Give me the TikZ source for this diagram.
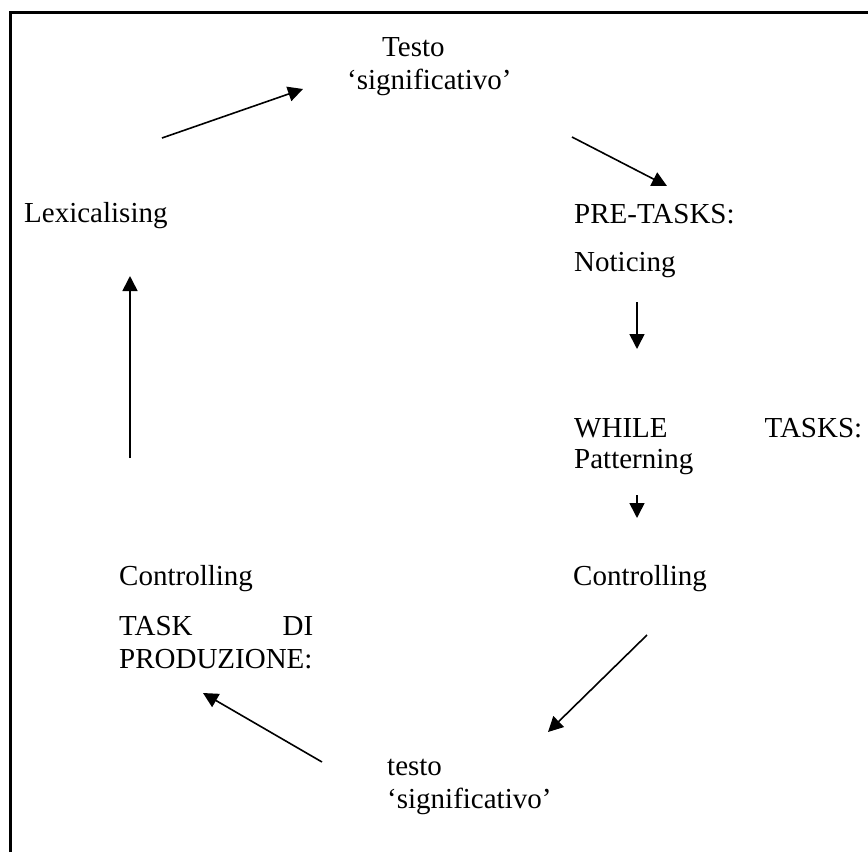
\documentclass[tikz,border=0pt]{standalone}
\usepackage{fontspec}
\setmainfont{Liberation Serif}
\usetikzlibrary{arrows.meta}
\tikzset{
  lbl/.style={anchor=base west, inner sep=0pt, font=\fontsize{29}{33}\selectfont},
  conn/.style={line width=1.6pt, -{Triangle[length=15pt,width=15pt]}},
  frame/.style={line width=3pt}
}
\begin{document}
\begin{tikzpicture}[x=1pt,y=-1pt]
\useasboundingbox (0,0) rectangle (868,852);
\draw[frame] (10.5,852) -- (10.5,12.5) -- (868,12.5);

\node[lbl] (testoA) at (382,56) {Testo};
\node[lbl] (signA) at (347,89) {‘significativo’};
\node[lbl] (lex) at (24,222) {Lexicalising};
\node[lbl] (pre) at (574,223) {PRE-TASKS:};
\node[lbl] (notic) at (574,271) {Noticing};
\node[lbl] (while) at (574,437) {\makebox[288pt][s]{WHILE TASKS:}};
\node[lbl] (patt) at (574,468) {Patterning};
\node[lbl] (ctrlR) at (573,585) {Controlling};
\node[lbl] (ctrlL) at (119,585) {Controlling};
\node[lbl] (taskdi) at (119,635) {\makebox[194pt][s]{TASK DI}};
\node[lbl] (prod) at (119,668) {PRODUZIONE:};
\node[lbl] (testoB) at (387,775) {testo};
\node[lbl] (signB) at (387,808) {‘significativo’};

\coordinate (a1s) at (162,138); \coordinate (a1e) at (303,89);
\coordinate (a2s) at (572,137); \coordinate (a2e) at (667,186);
\coordinate (a3s) at (637,302); \coordinate (a3e) at (637,349);
\coordinate (a4s) at (637,495); \coordinate (a4e) at (637,518);
\coordinate (a5s) at (647,635); \coordinate (a5e) at (548,732);
\coordinate (a6s) at (322,762); \coordinate (a6e) at (203,693);
\coordinate (a7s) at (130,458); \coordinate (a7e) at (130,276);

\draw[conn] (a1s) -- (a1e);
\draw[conn] (a2s) -- (a2e);
\draw[conn] (a3s) -- (a3e);
\draw[conn] (a4s) -- (a4e);
\draw[conn] (a5s) -- (a5e);
\draw[conn] (a6s) -- (a6e);
\draw[conn] (a7s) -- (a7e);
\end{tikzpicture}
\end{document}
